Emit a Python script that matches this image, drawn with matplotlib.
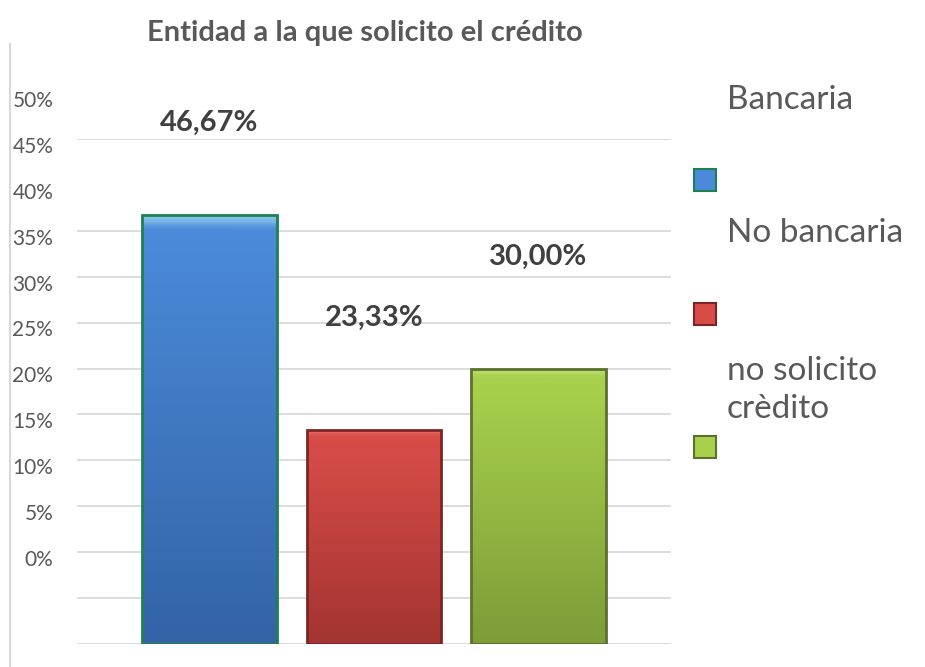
import numpy as np
import matplotlib
matplotlib.use("Agg")
import matplotlib.pyplot as plt
from matplotlib.lines import Line2D
from matplotlib.patches import Rectangle
from matplotlib.colors import LinearSegmentedColormap

# data
categories = ['Bancaria', 'No bancaria', 'no solicito\ncrèdito']
values = [46.67, 23.33, 30.00]
tick_values = [0, 5, 10, 15, 20, 25, 30, 35, 40, 45, 50]
grid_values = [0, 5, 10, 15, 20, 25, 30, 35, 40, 45, 55]

# styling
top_colors = ['#4a8ad8', '#d84c48', '#a8d04c']
bot_colors = ['#3463a6', '#a33431', '#7e9c38']
bevel_colors = ['#8cc8f0', '#e87470', '#c0e070']
edge_colors = ['#1e8050', '#7c2624', '#5c7030']
label_dy = [10.1, 12.2, 12.2]
tick_dy = 9.15

plt.rcParams['font.family'] = ['Lato', 'DejaVu Sans']

fig = plt.figure(figsize=(9.25, 6.67), dpi=100)
ax = fig.add_axes([77 / 925, 23 / 667, 594 / 925, 505 / 667])

x = np.arange(len(values))
bars = ax.bar(x, values, width=0.815, color=top_colors, zorder=3)
ax.set_xlim(-0.805, 2.805)
ax.set_ylim(0, 55)

# gradient fill inside every bar, with a light top bevel
for b, c0, c1, cb, ec in zip(bars, top_colors, bot_colors, bevel_colors, edge_colors):
    cmap = LinearSegmentedColormap.from_list(
        'g', [(0, c1), (0.94, c0), (0.97, c0), (1.0, cb)])
    grad = np.linspace(0, 1, 200).reshape(-1, 1)
    x0, y0 = b.get_x(), b.get_y()
    im = ax.imshow(grad, cmap=cmap, origin='lower', aspect='auto',
                   extent=[x0, x0 + b.get_width(), y0, y0 + b.get_height()],
                   zorder=4)
    im.set_clip_path(b)
    ax.add_patch(Rectangle((x0, y0), b.get_width(), b.get_height(),
                           fill=False, edgecolor=ec, linewidth=2, zorder=5))

for g in grid_values:
    ax.axhline(g, color='#d9d9d9', linewidth=1.3, zorder=1)

ax.set_xticks([])
ax.set_yticks([])
for s in ax.spines.values():
    s.set_visible(False)

# y labels (shifted above the grid, as in the original)
for t in tick_values:
    ax.text(-0.04, t + tick_dy, f'{t}%', transform=ax.get_yaxis_transform(),
            ha='right', va='center', fontsize=15, color='#595959', clip_on=False)

# value labels
for xi, v, dy in zip(x, values, label_dy):
    ax.text(xi, v + dy, f'{v:.2f}%'.replace('.', ','), ha='center', va='center',
            fontsize=21, fontweight='bold', color='#404040', clip_on=False)

fig.text(365 / 925, 1 - 33 / 667, 'Entidad a la que solicito el crédito',
         ha='center', va='center', fontsize=21, fontweight='bold', color='#595959')

# left frame line
fig.add_artist(Line2D([10 / 925, 10 / 925], [0, 1 - 44 / 667], color='#d9d9d9', linewidth=1.5))

# legend built by hand
text_y = [100, 233, 390]
mark_y = [180, 314, 447]
for cat, ty, my, c0, ec in zip(categories, text_y, mark_y, top_colors, edge_colors):
    fig.text(727 / 925, 1 - ty / 667, cat, ha='left', va='center',
             fontsize=24, color='#595959', linespacing=1.35)
    fig.add_artist(Rectangle((694 / 925, 1 - (my + 11) / 667), 22 / 925, 22 / 667,
                             facecolor=c0, edgecolor=ec, linewidth=1.5,
                             transform=fig.transFigure))

fig.savefig('out.png', dpi=100)
